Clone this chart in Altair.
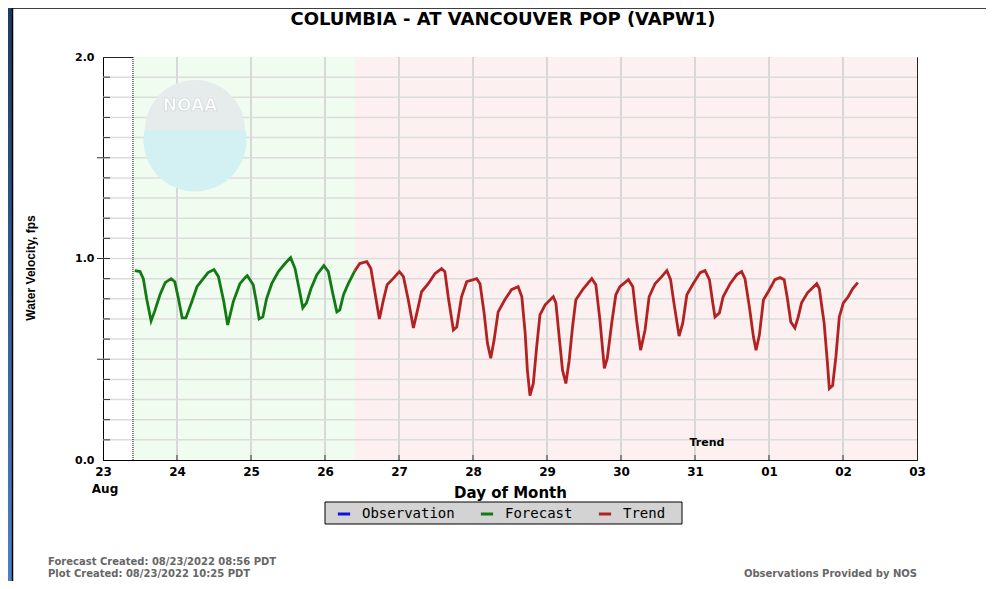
import altair as alt
import pandas as pd

# ---------------- data ----------------
green_day = [23.43, 23.50, 23.545, 23.59, 23.65, 23.70, 23.77, 23.84, 23.92, 23.97,
             24.02, 24.07, 24.12, 24.20, 24.27, 24.355, 24.42, 24.50, 24.56, 24.63,
             24.685, 24.76, 24.85, 24.92, 24.95, 25.03, 25.07, 25.11, 25.16, 25.21,
             25.28, 25.37, 25.46, 25.535, 25.595, 25.65, 25.70, 25.75, 25.81, 25.89,
             25.985, 26.045, 26.10, 26.16, 26.20, 26.25, 26.315, 26.405]
green_vel = [0.94, 0.935, 0.90, 0.80, 0.69, 0.74, 0.82, 0.88, 0.90, 0.885,
             0.80, 0.705, 0.705, 0.785, 0.86, 0.90, 0.93, 0.945, 0.91, 0.79,
             0.67, 0.785, 0.875, 0.905, 0.915, 0.87, 0.79, 0.70, 0.71, 0.80,
             0.875, 0.935, 0.975, 1.005, 0.95, 0.85, 0.755, 0.78, 0.85, 0.92,
             0.965, 0.935, 0.835, 0.735, 0.745, 0.82, 0.875, 0.94]

red_day = [26.405, 26.47, 26.565, 26.62, 26.675, 26.735, 26.79, 26.84, 26.92, 27.005,
           27.06, 27.125, 27.195, 27.26, 27.305, 27.395, 27.485, 27.575, 27.62, 27.665,
           27.735, 27.78, 27.845, 27.915, 28.05, 28.095, 28.15, 28.195, 28.24, 28.285,
           28.34, 28.43, 28.52, 28.61, 28.66, 28.705, 28.735, 28.77, 28.815, 28.86,
           28.905, 28.975, 29.085, 29.12, 29.165, 29.21, 29.255, 29.30, 29.345, 29.39,
           29.49, 29.605, 29.66, 29.715, 29.775, 29.815, 29.875, 29.93, 29.985, 30.10,
           30.16, 30.21, 30.265, 30.325, 30.38, 30.46, 30.55, 30.62, 30.67, 30.715,
           30.785, 30.835, 30.89, 30.975, 31.07, 31.135, 31.195, 31.24, 31.27, 31.33,
           31.38, 31.475, 31.565, 31.63, 31.675, 31.735, 31.79, 31.825, 31.87, 31.925,
           31.99, 32.08, 32.15, 32.205, 32.245, 32.295, 32.35, 32.395, 32.44, 32.52,
           32.645, 32.68, 32.745, 32.79, 32.815, 32.86, 32.905, 32.95, 33.005, 33.07,
           33.13, 33.20]
red_vel = [0.94, 0.975, 0.985, 0.95, 0.83, 0.70, 0.795, 0.87, 0.90, 0.935,
           0.91, 0.795, 0.655, 0.76, 0.835, 0.875, 0.925, 0.95, 0.935, 0.81,
           0.645, 0.66, 0.81, 0.885, 0.90, 0.875, 0.73, 0.58, 0.505, 0.595,
           0.735, 0.795, 0.845, 0.86, 0.81, 0.63, 0.445, 0.32, 0.38, 0.56,
           0.72, 0.77, 0.81, 0.78, 0.61, 0.445, 0.38, 0.495, 0.66, 0.795,
           0.85, 0.90, 0.87, 0.695, 0.455, 0.505, 0.68, 0.82, 0.86, 0.895,
           0.86, 0.695, 0.545, 0.645, 0.81, 0.875, 0.91, 0.94, 0.895, 0.78,
           0.615, 0.68, 0.82, 0.875, 0.93, 0.94, 0.895, 0.78, 0.71, 0.73,
           0.81, 0.875, 0.92, 0.935, 0.90, 0.76, 0.61, 0.545, 0.62, 0.795,
           0.835, 0.895, 0.905, 0.895, 0.81, 0.685, 0.655, 0.71, 0.78, 0.83,
           0.875, 0.85, 0.68, 0.48, 0.355, 0.37, 0.515, 0.71, 0.78, 0.81,
           0.85, 0.88]

legend_items = ["Observation", "Forecast", "Trend"]
legend_colors = ["#1010e0", "#127a12", "#b22222"]

region_names = ["Forecast", "Trend"]
region_start = [23.405, 26.405]
region_end = [26.405, 34.0]
region_fill = ["#effcef", "#fdf0f0"]
forecast_start = [23.405]

day_ticks = [23, 24, 25, 26, 27, 28, 29, 30, 31, 32, 33, 34]
inner_days = [24, 25, 26, 27, 28, 29, 30, 31, 32, 33]
y_ticks = [0.0, 0.1, 0.2, 0.3, 0.4, 0.5, 0.6, 0.7, 0.8, 0.9, 1.0,
           1.1, 1.2, 1.3, 1.4, 1.5, 1.6, 1.7, 1.8, 1.9, 2.0]
y_minor = [0.1, 0.2, 0.3, 0.4, 0.6, 0.7, 0.8, 0.9, 1.1, 1.2, 1.3, 1.4,
           1.6, 1.7, 1.8, 1.9]
y_major = [0.5, 1.0, 1.5]

title_text = "COLUMBIA - AT VANCOUVER POP  (VAPW1)"
footer_left = ["Forecast Created: 08/23/2022 08:56 PDT", "Plot Created: 08/23/2022 10:25 PDT"]
footer_right = "Observations Provided by NOS"

# ---------------- tables ----------------
df_lines = pd.concat([
    pd.DataFrame({"day": green_day, "vel": green_vel, "series": "Forecast"}),
    pd.DataFrame({"day": red_day, "vel": red_vel, "series": "Trend"}),
], ignore_index=True)
df_regions = pd.DataFrame({"day": region_start, "day2": region_end,
                           "name": region_names, "fill": region_fill})
one = pd.DataFrame({"a": [0]})

W, H = 814, 403
FONT = "DejaVu Sans"
xs = alt.Scale(domain=[23, 34], nice=False, zero=False)
ys = alt.Scale(domain=[0, 2], nice=False, zero=False)

# ---------------- layers ----------------
regions = alt.Chart(df_regions).mark_rect().encode(
    x=alt.X("day:Q", scale=xs), x2="day2:Q",
    y=alt.value(0), y2=alt.value(H),
    fill=alt.Fill("fill:N", scale=None),
)

logo_circle = alt.Chart(one).mark_circle(size=10600, color="#d3f1f2", opacity=1).encode(
    x=alt.value(92), y=alt.value(83))
logo_top = alt.Chart(one).mark_arc(color="#e6ecec", opacity=1).encode(
    x=alt.value(92), y=alt.value(73),
    theta=alt.value(4.712), theta2=alt.value(7.854),
    radius=alt.value(50))
logo_text = alt.Chart(one).mark_text(font=FONT, fontWeight="bold", fontSize=17,
                                     color="#ffffff", stroke="#c9d2d2", strokeWidth=0.6).encode(
    x=alt.value(87), y=alt.value(49), text=alt.value("NOAA"))

ygrid = alt.Chart(pd.DataFrame({"vel": y_minor + y_major})).mark_rule(
    color="#dcdcdc", strokeWidth=1.5).encode(y=alt.Y("vel:Q", scale=ys))
xgrid = alt.Chart(pd.DataFrame({"day": inner_days})).mark_rule(
    color="#d8d8d8", strokeWidth=2).encode(x=alt.X("day:Q", scale=xs))

start_line = alt.Chart(pd.DataFrame({"day": forecast_start})).mark_rule(
    color="#000000", strokeWidth=1, strokeDash=[1, 1]).encode(x=alt.X("day:Q", scale=xs))

yticks_minor = alt.Chart(pd.DataFrame({"vel": y_minor})).mark_rule(
    color="#333333", strokeWidth=1).encode(
    y=alt.Y("vel:Q", scale=ys), x=alt.value(0), x2=alt.value(7))
yticks_major = alt.Chart(pd.DataFrame({"vel": y_major})).mark_rule(
    color="#333333", strokeWidth=1).encode(
    y=alt.Y("vel:Q", scale=ys), x=alt.value(-6), x2=alt.value(7))
xticks = alt.Chart(pd.DataFrame({"day": inner_days})).mark_rule(
    color="#333333", strokeWidth=1).encode(
    x=alt.X("day:Q", scale=xs), y=alt.value(H - 5), y2=alt.value(H))

lines = alt.Chart(df_lines).mark_line(strokeWidth=2.8).encode(
    x=alt.X("day:Q", scale=xs, title="Day of Month",
            axis=alt.Axis(values=day_ticks, grid=False, ticks=False,
                          labelExpr="datum.value > 31 ? '0' + (datum.value - 31) : '' + datum.value",
                          labelFont=FONT, labelFontWeight="bold", labelFontSize=12,
                          labelColor="#000", labelPadding=6, labelFlush=False,
                          labelOverlap=False,
                          titleFont=FONT, titleFontWeight="bold", titleFontSize=15,
                          titleColor="#000", titlePadding=8,
                          domainColor="#000")),
    y=alt.Y("vel:Q", scale=ys, title=None,
            axis=alt.Axis(values=y_ticks, grid=False, ticks=False,
                          labelExpr="(round(datum.value * 10) % 5 == 0) ? format(datum.value, '.1f') : ''",
                          labelFont=FONT, labelFontWeight="bold", labelFontSize=11,
                          labelColor="#000", labelPadding=9, labelFlush=False,
                          labelOverlap=False, domainColor="#000")),
    color=alt.Color("series:N",
                    scale=alt.Scale(domain=legend_items, range=legend_colors),
                    legend=alt.Legend(title=None, orient="none", legendX=233, legendY=449,
                                      direction="horizontal", symbolType="stroke",
                                      symbolSize=150, symbolStrokeWidth=3,
                                      labelFont="DejaVu Sans Mono", labelFontSize=14,
                                      labelColor="#000", labelOffset=10,
                                      columnPadding=19, padding=0)),
    order=alt.Order("day:Q"),
)

legend_box = alt.Chart(one).mark_rect(fill="#d3d3d3", stroke="#000", strokeWidth=1).encode(
    x=alt.value(222), x2=alt.value(579), y=alt.value(445), y2=alt.value(467))

title = alt.Chart(one).mark_text(font=FONT, fontWeight="bold", fontSize=18,
                                 color="#000", baseline="alphabetic").encode(
    x=alt.value(400), y=alt.value(-32), text=alt.value(title_text))
ytitle = alt.Chart(one).mark_text(font="Liberation Sans", fontWeight="bold", fontSize=12,
                                  color="#000", angle=270).encode(
    x=alt.value(-72), y=alt.value(211), text=alt.value("Water Velocity, fps"))
aug = alt.Chart(one).mark_text(font=FONT, fontWeight="bold", fontSize=12, color="#000").encode(
    x=alt.value(2), y=alt.value(432), text=alt.value("Aug"))
trend_lbl = alt.Chart(one).mark_text(font=FONT, fontWeight="bold", fontSize=11, color="#000").encode(
    x=alt.value(604), y=alt.value(386), text=alt.value("Trend"))
foot1 = alt.Chart(one).mark_text(font=FONT, fontWeight="bold", fontSize=10, color="#666",
                                 align="left", baseline="alphabetic").encode(
    x=alt.value(-55), y=alt.value(508), text=alt.value(footer_left[0]))
foot2 = alt.Chart(one).mark_text(font=FONT, fontWeight="bold", fontSize=10, color="#666",
                                 align="left", baseline="alphabetic").encode(
    x=alt.value(-55), y=alt.value(520), text=alt.value(footer_left[1]))
foot3 = alt.Chart(one).mark_text(font=FONT, fontWeight="bold", fontSize=10, color="#666",
                                 align="right", baseline="alphabetic").encode(
    x=alt.value(814), y=alt.value(520), text=alt.value(footer_right))

strip = alt.Chart(one).mark_rect(
    color=alt.LinearGradient(gradient="linear", x1=0, x2=0, y1=0, y2=1,
                             stops=[alt.GradientStop(color="#1b3a66", offset=0),
                                    alt.GradientStop(color="#4a82c8", offset=1)])).encode(
    x=alt.value(-95), x2=alt.value(-91), y=alt.value(-49), y2=alt.value(530))
strip_line = alt.Chart(one).mark_rule(color="#000", strokeWidth=1.5).encode(
    x=alt.value(-90.5), y=alt.value(-49), y2=alt.value(530))
top_line = alt.Chart(one).mark_rule(color="#000", strokeWidth=1.5).encode(
    x=alt.value(-91), x2=alt.value(883), y=alt.value(-49))

chart = alt.layer(
    regions, xgrid, ygrid, logo_circle, logo_top, logo_text, start_line,
    yticks_minor, yticks_major, xticks, legend_box, lines,
    title, ytitle, aug, trend_lbl, foot1, foot2, foot3, strip, strip_line, top_line,
).properties(
    width=W, height=H,
    autosize=alt.AutoSizeParams(type="none"),
    padding={"left": 95, "top": 49, "right": 69, "bottom": 121},
    background="#ffffff",
).configure_view(stroke="#222", strokeWidth=1)

chart.save("out.html", embed_options={"renderer": "svg", "actions": False})
